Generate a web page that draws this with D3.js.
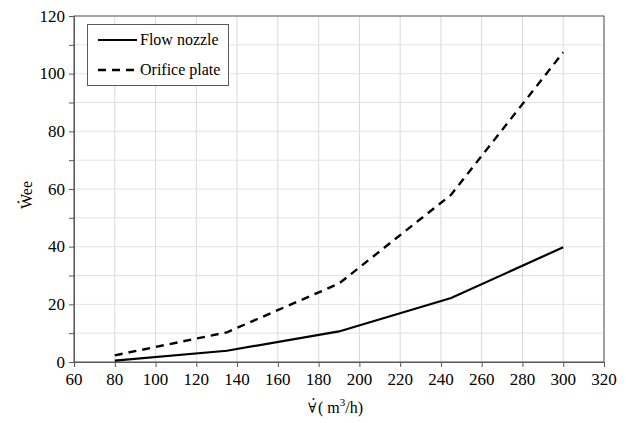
<!DOCTYPE html>
<html>
<head>
<meta charset="utf-8">
<script src="https://cdn.jsdelivr.net/npm/d3@7"></script>
<style>
  body { margin: 0; background: #fff; font-family: 'Liberation Serif'; }
</style>
</head>
<body>
<svg id="chart" width="630" height="423"></svg>
<script>
// data
var flowX = [80, 135, 190, 245, 300];
var nozzleY = [0.5, 3.9, 10.6, 22.2, 39.8];
var orificeY = [2.3, 10.3, 27.2, 58.0, 107.4];
var seriesNames = ["Flow nozzle", "Orifice plate"];
var xTicks = [60, 80, 100, 120, 140, 160, 180, 200, 220, 240, 260, 280, 300, 320];
var yTicks = [0, 20, 40, 60, 80, 100, 120];
var yMinor = [10, 30, 50, 70, 90, 110];

var W = 630, H = 423;
var margin = { top: 16, right: 26, bottom: 61, left: 74 };

var svg = d3.select("#chart");

var xScale = d3.scaleLinear().domain([60, 320]).range([margin.left, W - margin.right]);
var yScale = d3.scaleLinear().domain([0, 120]).range([H - margin.bottom, margin.top]);

// gridlines
var grid = svg.append("g");
grid.selectAll(".vg")
  .data(xTicks)
  .enter().append("line")
    .attr("x1", function(d) { return xScale(d); })
    .attr("x2", function(d) { return xScale(d); })
    .attr("y1", yScale(0)).attr("y2", yScale(120))
    .attr("stroke", "#d9d9d9").attr("stroke-width", 1);
grid.selectAll(".hg")
  .data(yTicks.concat(yMinor))
  .enter().append("line")
    .attr("x1", xScale(60)).attr("x2", xScale(320))
    .attr("y1", function(d) { return yScale(d); })
    .attr("y2", function(d) { return yScale(d); })
    .attr("stroke", "#e3e3e3").attr("stroke-width", 1);

// plot border
svg.append("rect")
  .attr("x", xScale(60)).attr("y", yScale(120))
  .attr("width", xScale(320) - xScale(60)).attr("height", yScale(0) - yScale(120))
  .attr("fill", "none").attr("stroke", "#595959").attr("stroke-width", 1);

// axes (tick marks only, labels drawn as plain text below)
svg.append("g")
  .attr("transform", "translate(0," + yScale(0) + ")")
  .call(d3.axisBottom(xScale).tickValues(xTicks).tickSize(5).tickFormat(""));
svg.append("g")
  .attr("transform", "translate(" + xScale(60) + ",0)")
  .call(d3.axisLeft(yScale).tickValues(yTicks.concat(yMinor)).tickSize(5).tickFormat(""));
svg.selectAll(".domain").attr("stroke", "#595959");
svg.selectAll(".tick line").attr("stroke", "#595959");

// tick labels
svg.selectAll(".xlab")
  .data(xTicks)
  .enter().append("text")
    .attr("x", function(d) { return xScale(d); })
    .attr("y", yScale(0) + 23)
    .attr("text-anchor", "middle")
    .style("font-family", "'Liberation Serif'")
    .style("font-size", "17px")
    .text(function(d) { return d; });
svg.selectAll(".ylab")
  .data(yTicks)
  .enter().append("text")
    .attr("x", xScale(60) - 9)
    .attr("y", function(d) { return yScale(d) + 5.5; })
    .attr("text-anchor", "end")
    .style("font-family", "'Times New Roman'")
    .style("font-size", "17px")
    .text(function(d) { return d; });

// lines
var line = d3.line()
  .x(function(d) { return xScale(d[0]); })
  .y(function(d) { return yScale(d[1]); });

var nozzle = flowX.map(function(v, i) { return [v, nozzleY[i]]; });
var orifice = flowX.map(function(v, i) { return [v, orificeY[i]]; });

svg.append("path")
  .datum(nozzle)
  .attr("d", line)
  .attr("fill", "none").attr("stroke", "#000").attr("stroke-width", 2.2);
svg.append("path")
  .datum(orifice)
  .attr("d", line)
  .attr("fill", "none").attr("stroke", "#000").attr("stroke-width", 2.4)
  .attr("stroke-dasharray", "8,6");

// legend
var legend = svg.append("g");
legend.append("rect")
  .attr("x", 87.5).attr("y", 24.5).attr("width", 141).attr("height", 61)
  .attr("fill", "#fff").attr("stroke", "#595959").attr("stroke-width", 1);
seriesNames.forEach(function(name, i) {
  var ly = 40 + i * 30;
  legend.append("line")
    .attr("x1", 98).attr("x2", 137).attr("y1", ly).attr("y2", ly)
    .attr("stroke", "#000").attr("stroke-width", i ? 2.4 : 2.2)
    .attr("stroke-dasharray", i ? "8,6" : null);
  legend.append("text")
    .attr("x", 140).attr("y", ly + 5)
    .style("font-family", "'Liberation Serif'")
    .style("font-size", "16px")
    .text(name);
});

// y title: W with a dot, then "ee"
var yt = svg.append("g").attr("transform", "translate(32,195) rotate(-90)");
yt.append("text")
  .attr("text-anchor", "middle")
  .style("font-family", "'Liberation Serif'")
  .style("font-size", "16px")
  .text("Wee");
yt.append("circle").attr("cx", -7.2).attr("cy", -13.5).attr("r", 1.1).attr("fill", "#222");

// x title: flow-rate symbol with a dot, then units
svg.append("text")
  .attr("x", 308).attr("y", 413)
  .style("font-family", "'DejaVu Serif'").style("font-size", "14px")
  .text("\u2200");
svg.append("circle").attr("cx", 313.5).attr("cy", 399).attr("r", 1.1).attr("fill", "#222");
var xt = svg.append("text")
  .attr("x", 318).attr("y", 413)
  .style("font-family", "'Liberation Serif'")
  .style("font-size", "16px");
xt.append("tspan").text("( m");
xt.append("tspan").attr("dy", -7).style("font-size", "11px").text("3");
xt.append("tspan").attr("dy", 7).text("/h)");
</script>
</body>
</html>
